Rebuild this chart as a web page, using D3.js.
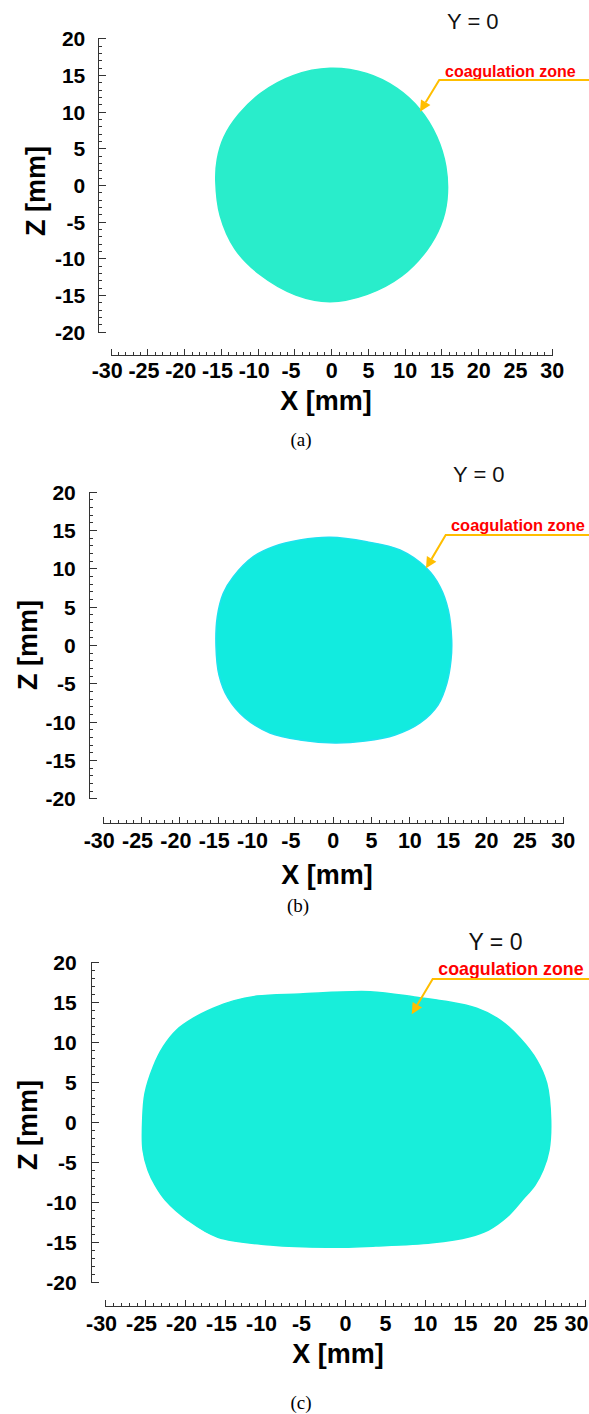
<!DOCTYPE html>
<html>
<head>
<meta charset="utf-8">
<script src="https://cdn.jsdelivr.net/npm/d3@7"></script>
<style>
  html, body { margin: 0; padding: 0; background: #fff; }
  svg { display: block; }
</style>
</head>
<body>
<svg id="chart" width="589" height="1414"></svg>
<script>
// ---------- DATA ----------
const xTicks = [-30, -25, -20, -15, -10, -5, 0, 5, 10, 15, 20, 25, 30];
const zTicks = [-20, -15, -10, -5, 0, 5, 10, 15, 20];
const xDomain = [-30, 30];
const zDomain = [-20, 20];
const captions = ["(a)", "(b)", "(c)"];
const planeLabel = "Y = 0";
const zoneLabel = "coagulation zone";

// coagulation zone outlines at Y = 0, [X mm, Z mm]
const zoneA = [
  [-0.16, 15.9], [4.83, 15.2], [8.91, 13.2], [12.08, 10.3], [14.35, 6.6],
  [15.6, 2.5], [15.75, -2.0], [14.9, -5.5], [13.0, -8.9], [9.6, -12.4],
  [4.9, -14.9], [-0.16, -15.9], [-4.8, -15.0], [-9.7, -12.2], [-13.1, -8.7],
  [-15.1, -4.2], [-15.7, 0.5], [-15.5, 3.5], [-14.6, 6.5], [-12.6, 9.6],
  [-9.6, 12.5], [-5.2, 14.9]
];
const zoneB = [
  [-0.35, 14.05], [4.43, 13.47], [8.78, 12.39], [12.26, 10.0], [14.0, 7.6],
  [15.08, 4.56], [15.52, 0.65], [15.43, -1.96], [14.9, -4.96], [13.73, -7.83],
  [11.39, -10.17], [8.13, -11.74], [4.21, -12.52], [0.3, -12.78], [-4.27, -12.39],
  [-8.18, -11.48], [-11.44, -9.52], [-13.66, -6.91], [-14.83, -3.91], [-15.22, -0.22],
  [-15.05, 3.69], [-14.27, 6.74], [-12.96, 8.91], [-10.36, 11.52], [-7.75, 12.82],
  [-4.27, 13.69]
];
const zoneC = [
  [-25.29, 0.21], [-25.0, 3.55], [-23.96, 6.88], [-22.71, 9.38], [-21.04, 11.46],
  [-18.96, 12.93], [-16.46, 14.18], [-13.96, 15.1], [-11.0, 15.7], [-5.63, 15.96],
  [3.13, 16.25], [8.96, 15.55], [12.29, 15.09], [16.46, 14.18], [19.38, 12.71],
  [21.88, 10.43], [23.96, 7.71], [25.21, 4.8], [25.71, 0.21], [25.5, -3.54],
  [24.75, -6.04], [23.75, -7.91], [22.15, -9.79], [20.26, -11.88], [17.93, -13.54],
  [15.58, -14.38], [10.88, -15.13], [3.84, -15.54], [-2.28, -15.7], [-9.31, -15.41],
  [-15.89, -14.45], [-19.65, -12.29], [-22.46, -9.79], [-23.75, -7.91], [-24.63, -6.04],
  [-25.25, -3.54]
];
// annotation arrow: [tip, elbow] in data coordinates
const arrowA = [[12.08, 10.0], [14.7, 14.32]];
const arrowB = [[12.17, 10.0], [14.74, 14.35]];
const arrowC = [[8.34, 13.43], [10.96, 17.84]];

// ---------- LAYOUT ----------
const W = 589;
const panels = [
  { zone: zoneA, arrow: arrowA, fill: "#29EDCB", stroke: "#29EDCB",
    xr: [110.7, 551.7], yr: [38.3, 331.7], yAxisX: 98.3, xAxisY: 355,
    xPad: 8, yPad: 13, xTitle: [326, 410], zTitle: [45, 191], cap: [301, 446],
    plane: [447, 29, 22], zoneTxt: [445, 76.5, 16] },
  { zone: zoneB, arrow: arrowB, fill: "#12EBDF", stroke: "#1EE2EE",
    xr: [102.7, 562.7], yr: [491.7, 798.3], yAxisX: 88.8, xAxisY: 822.7,
    xPad: 10.5, yPad: 13, xTitle: [327, 884], zTitle: [37, 645], cap: [298, 912],
    plane: [453, 482, 22], zoneTxt: [451, 531, 16.4] },
  { zone: zoneC, arrow: arrowC, fill: "#18EEDA", stroke: "#18EEDA",
    xr: [105, 585], yr: [961.7, 1281.7], yAxisX: 90.7, xAxisY: 1306,
    xPad: 9.5, yPad: 14, xTitle: [338, 1363], zTitle: [37, 1125], cap: [301, 1409],
    plane: [468.5, 950, 23], zoneTxt: [438.3, 975, 17.8] }
];

const svg = d3.select("#chart");
const sans = "'Liberation Sans', Arial, Helvetica, sans-serif";
const serif = "'Liberation Serif', 'Times New Roman', serif";
const axisColor = "#333";
const minorVals = d3.range(-30, 31, 1);
const minorZ = d3.range(-20, 21, 1);
const fmt = d => String(d);

panels.forEach((p, i) => {
  const x = d3.scaleLinear().domain(xDomain).range(p.xr);
  const z = d3.scaleLinear().domain(zDomain).range([p.yr[1], p.yr[0]]);
  const g = svg.append("g");

  // zone shape
  const line = d3.line().x(d => x(d[0])).y(d => z(d[1])).curve(d3.curveCatmullRomClosed.alpha(0.5));
  g.append("path").attr("d", line(p.zone))
    .attr("fill", p.fill).attr("stroke", p.stroke).attr("stroke-width", 1.5);

  // Z axis
  const zMinor = g.append("g").attr("transform", `translate(${p.yAxisX},0)`)
    .call(d3.axisLeft(z).tickValues(minorZ).tickSize(-4).tickSizeOuter(0).tickFormat(""));
  const zMajor = g.append("g").attr("transform", `translate(${p.yAxisX},0)`)
    .call(d3.axisLeft(z).tickValues(zTicks).tickSize(-8).tickSizeOuter(-8).tickPadding(p.yPad).tickFormat(fmt));
  // X axis
  const xMinor = g.append("g").attr("transform", `translate(0,${p.xAxisY})`)
    .call(d3.axisBottom(x).tickValues(minorVals).tickSize(-3).tickSizeOuter(0).tickFormat(""));
  const xMajor = g.append("g").attr("transform", `translate(0,${p.xAxisY})`)
    .call(d3.axisBottom(x).tickValues(xTicks).tickSize(-6).tickSizeOuter(-6).tickPadding(p.xPad).tickFormat(fmt));

  [zMinor, zMajor, xMinor, xMajor].forEach(a => {
    a.selectAll("path, line").attr("stroke", axisColor).attr("stroke-width", 1).attr("shape-rendering", "crispEdges");
    a.selectAll("text").attr("font-family", sans).attr("font-weight", "bold")
      .attr("font-size", 21).attr("fill", "#000");
  });
  zMajor.selectAll("text").attr("font-size", 21).attr("dy", "0.36em");
  xMajor.selectAll("text").attr("font-size", 21.5)
    .attr("dx", d => d < 0 ? -4 : 0);
  // keep the last label inside the page
  xMajor.selectAll(".tick").each(function(d) {
    const t = d3.select(this).select("text");
    const bb = t.node().getBBox();
    const tx = x(d);
    if (tx + bb.width / 2 > W - 1) {
      t.attr("dx", (W - 1) - (tx + bb.width / 2));
    }
  });

  // titles
  g.append("text").attr("x", p.xTitle[0]).attr("y", p.xTitle[1])
    .attr("text-anchor", "middle").attr("font-family", sans).attr("font-weight", "bold")
    .attr("font-size", 27).text("X [mm]");
  g.append("text").attr("transform", `translate(${p.zTitle[0]},${p.zTitle[1]}) rotate(-90)`)
    .attr("text-anchor", "middle").attr("font-family", sans).attr("font-weight", "bold")
    .attr("font-size", 27).text("Z [mm]");

  // caption
  g.append("text").attr("x", p.cap[0]).attr("y", p.cap[1])
    .attr("text-anchor", "middle").attr("font-family", serif)
    .attr("font-size", 19).text(captions[i]);

  // plane label
  g.append("text").attr("x", p.plane[0]).attr("y", p.plane[1])
    .attr("font-family", sans).attr("font-size", p.plane[2]).attr("fill", "#111")
    .text(planeLabel);

  // zone label
  g.append("text").attr("x", p.zoneTxt[0]).attr("y", p.zoneTxt[1])
    .attr("font-family", sans).attr("font-weight", "bold").attr("font-size", p.zoneTxt[2])
    .attr("fill", "#FF0000").text(zoneLabel);

  // leader arrow
  const tip = [x(p.arrow[0][0]), z(p.arrow[0][1])];
  const elbow = [x(p.arrow[1][0]), z(p.arrow[1][1])];
  const orange = "#FFBE00";
  const dx = tip[0] - elbow[0], dy = tip[1] - elbow[1];
  const len = Math.hypot(dx, dy), ux = dx / len, uy = dy / len;
  const hl = 11, hw = 5.5;
  const base = [tip[0] - ux * hl, tip[1] - uy * hl];
  g.append("path")
    .attr("d", `M${W},${elbow[1]} L${elbow[0]},${elbow[1]} L${base[0]},${base[1]}`)
    .attr("fill", "none").attr("stroke", orange).attr("stroke-width", 2);
  g.append("path")
    .attr("d", `M${tip[0]},${tip[1]} L${base[0] - uy * hw},${base[1] + ux * hw} L${base[0] + uy * hw},${base[1] - ux * hw} Z`)
    .attr("fill", orange);
});
</script>
</body>
</html>
